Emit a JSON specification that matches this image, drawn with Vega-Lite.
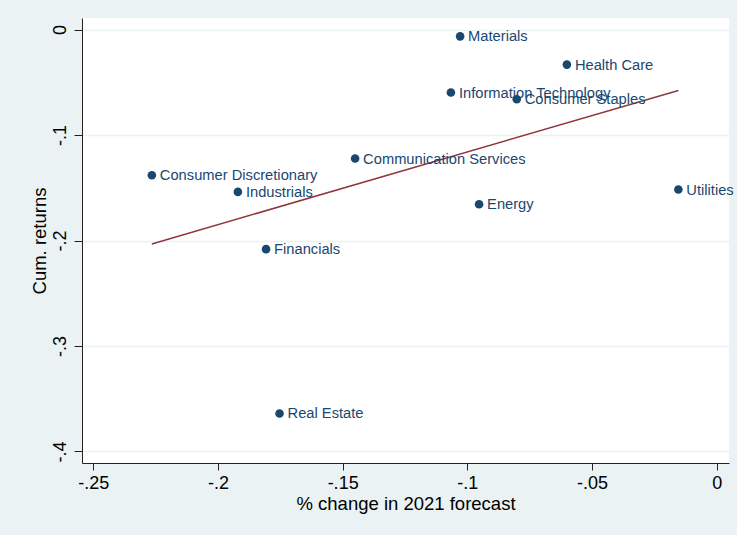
{
  "$schema": "https://vega.github.io/schema/vega-lite/v6.json",
  "width": 647,
  "height": 445,
  "autosize": {"type": "none"},
  "padding": {"left": 82, "top": 18, "right": 8, "bottom": 72},
  "background": "#EAF2F3",
  "config": {
    "view": {"fill": "white", "stroke": null},
    "font": "Liberation Sans"
  },
  "data": {
    "values": [
      {"sector": "Materials", "x": -0.1029, "y": -0.0064},
      {"sector": "Health Care", "x": -0.0601, "y": -0.0332},
      {"sector": "Information Technology", "x": -0.1066, "y": -0.0597},
      {"sector": "Consumer Staples", "x": -0.0802, "y": -0.0661},
      {"sector": "Communication Services", "x": -0.1450, "y": -0.1223},
      {"sector": "Consumer Discretionary", "x": -0.2265, "y": -0.1381},
      {"sector": "Industrials", "x": -0.1920, "y": -0.1539},
      {"sector": "Utilities", "x": -0.0154, "y": -0.1517},
      {"sector": "Energy", "x": -0.0953, "y": -0.1656},
      {"sector": "Financials", "x": -0.1807, "y": -0.2082},
      {"sector": "Real Estate", "x": -0.1753, "y": -0.3640}
    ]
  },
  "encoding": {
    "x": {
      "field": "x",
      "type": "quantitative",
      "scale": {"domain": [-0.2545, 0.0049], "nice": false, "zero": false},
      "axis": {
        "title": "% change in 2021 forecast",
        "values": [-0.25, -0.2, -0.15, -0.1, -0.05, 0],
        "labelExpr": "replace(replace(format(datum.value, '.2~f'), '\u2212', '-'), '0.', '.')",
        "grid": false,
        "domainColor": "#222222",
        "tickColor": "#222222",
        "tickSize": 7,
        "labelPadding": 4,
        "labelFontSize": 18,
        "labelColor": "#000000",
        "labelFont": "Liberation Sans",
        "titleFont": "Liberation Sans",
        "titleFontSize": 18.5,
        "titleFontWeight": "normal",
        "titleColor": "#000000",
        "titlePadding": 2,
        "labelFlush": false,
        "labelOverlap": false
      }
    },
    "y": {
      "field": "y",
      "type": "quantitative",
      "scale": {"domain": [-0.411, 0.011], "nice": false, "zero": false},
      "axis": {
        "title": "Cum. returns",
        "values": [0, -0.1, -0.2, -0.3, -0.4],
        "labelExpr": "replace(replace(format(datum.value, '.2~f'), '\u2212', '-'), '0.', '.')",
        "grid": true,
        "gridColor": "#EAF2F3",
        "gridWidth": 1.5,
        "domainColor": "#222222",
        "tickColor": "#222222",
        "tickSize": 8,
        "labelAngle": -90,
        "labelAlign": "center",
        "labelBaseline": "bottom",
        "labelPadding": 5,
        "labelFontSize": 18,
        "labelColor": "#000000",
        "labelFont": "Liberation Sans",
        "titleFont": "Liberation Sans",
        "titleFontSize": 18.5,
        "titleFontWeight": "normal",
        "titleColor": "#000000",
        "titlePadding": 2,
        "labelFlush": false,
        "labelOverlap": false
      }
    }
  },
  "layer": [
    {
      "transform": [{"regression": "y", "on": "x"}],
      "mark": {"type": "line", "color": "#90353B", "strokeWidth": 1.5},
      "encoding": {}
    },
    {
      "mark": {"type": "circle", "size": 74, "opacity": 1, "color": "#1A476F"}
    },
    {
      "mark": {"type": "text", "align": "left", "baseline": "middle", "dx": 8, "dy": 1, "fontSize": 14.7, "font": "Liberation Sans", "color": "#1A476F"},
      "encoding": {"text": {"field": "sector"}}
    }
  ]
}
